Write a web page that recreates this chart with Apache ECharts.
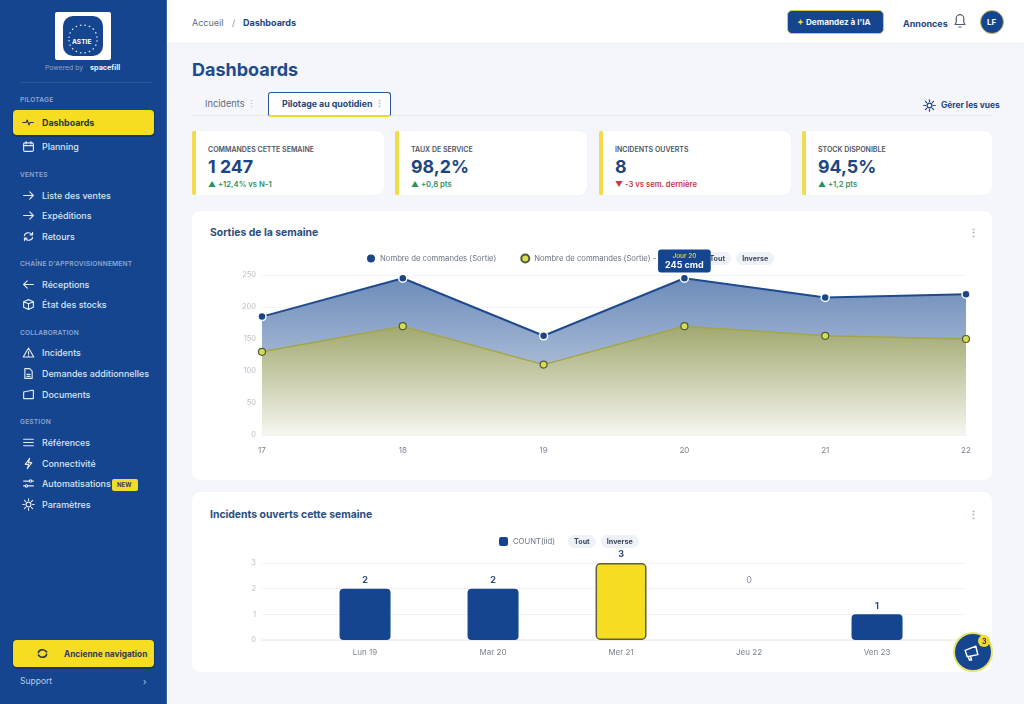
<!DOCTYPE html>
<html lang="fr">
<head>
<meta charset="utf-8">
<title>Dashboards</title>
<script src="https://cdn.jsdelivr.net/npm/echarts@6/dist/echarts.min.js"></script>
<style>
* { box-sizing: border-box; }
html, body { margin: 0; width: 1024px; height: 704px; overflow: hidden; background: #f4f6fb; font-family: Inter, sans-serif; color: #1d4580; }
.abs, .t { position: absolute; white-space: nowrap; }
.t { transform: translateY(-50%); line-height: 1; }
#side { position: absolute; left: 0; top: 0; width: 167px; height: 704px; background: #15458f; border-right: 1px solid #3f68a8; }
.sec { left: 20px; font-size: 6.6px; font-weight: 600; color: #8ea7cf; letter-spacing: .2px; }
.nav { left: 42px; font-size: 8.9px; font-weight: 500; color: #dbe5f5; }
.ic { position: absolute; left: 22px; width: 13px; height: 13px; fill: none; stroke: #e3eaf6; stroke-width: 1.4; stroke-linecap: round; stroke-linejoin: round; }
.yb { position: absolute; left: 13px; width: 141px; background: #f6dd21; border-radius: 4px; box-shadow: 0 1px 0 1px #12376f; }
.card { position: absolute; background: #fff; border-radius: 8px; box-shadow: 0 0 2px rgba(40,60,100,.06); }
.kpi { position: absolute; top: 131px; height: 64px; background: #fff; border-left: 4px solid #f0dc4c; border-radius: 2px 8px 8px 2px; box-shadow: 0 0 2px rgba(40,60,100,.06); }
.kl { left: 12px; top: 17.500px; font-size: 7px; font-weight: 600; color: #4d5565; }
.kv { left: 12px; top: 36px; font-size: 17.800px; font-weight: 700; color: #1d4580; }
.kd { left: 12px; top: 53.500px; font-size: 7.700px; font-weight: 600; }
.chart { position: absolute; left: 192px; width: 800px; }
.ttl { left: 210px; font-size: 10.400px; font-weight: 700; color: #2b4d80; }
.keb { left: 968px; font-size: 11px; color: #a5acb8; font-weight: 700; }
</style>
</head>
<body>
<div id="side"></div>
<div class="abs" style="left:167px;top:0;width:857px;height:44px;background:#fff;border-bottom:1px solid #eceff5"></div>

<div class="t" style="left:192px;top:22px;font-size:9px;color:#5f6b80">Accueil</div>
<div class="t" style="left:232px;top:22px;font-size:9px;color:#8a93a3">/</div>
<div class="t" style="left:243px;top:22px;font-size:9px;font-weight:700">Dashboards</div>
<div class="abs" style="left:787px;top:10px;width:97px;height:24px;background:#15458f;border:1.500px solid #cfc95a;border-radius:5px"></div>
<div class="t" style="left:797px;top:22px;font-size:8.200px;font-weight:700;color:#f5f7fb"><span style="color:#f6dd21">✦</span> Demandez à l'IA</div>
<div class="t" style="left:903px;top:22.500px;font-size:9px;font-weight:700">Annonces</div>
<svg class="abs" style="left:952px;top:12px" width="16" height="18" viewBox="0 0 16 18" fill="none" stroke="#505a6c" stroke-width="1.200" stroke-linejoin="round"><path d="M3 12.500h10l-1.200-2V6.500a3.800 3.800 0 0 0-7.600 0v4zM6.500 15h3"/></svg>
<div class="abs" style="left:980px;top:10px;width:24px;height:24px;border-radius:50%;background:#15458f;border:1.500px solid #c5c05a"></div>
<div class="t" style="left:987px;top:22px;font-size:8px;font-weight:700;color:#fff">LF</div>

<div class="t" style="left:192px;top:70px;font-size:18px;font-weight:700;color:#1d4a8c">Dashboards</div>
<div class="abs" style="left:192px;top:115px;width:800px;height:1px;background:#e8ebf2"></div>
<div class="t" style="left:205px;top:104px;font-size:9.200px;color:#5f6b80">Incidents <span style="color:#a5acb8">⋮</span></div>
<div class="abs" style="left:268px;top:92px;width:123px;height:25px;background:#fff;border:1.500px solid #2a5794;border-bottom:2.500px solid #f0d92c;border-radius:3px"></div>
<div class="t" style="left:282px;top:104px;font-size:8.800px;font-weight:700">Pilotage au quotidien <span style="color:#a5acb8">⋮</span></div>
<svg class="abs" style="left:923px;top:99px" width="13" height="13" viewBox="0 0 16 16" fill="none" stroke="#1d4580" stroke-width="1.500" stroke-linecap="round"><circle cx="8" cy="8" r="3"/><path d="M8 1v2M8 13v2M1 8h2M13 8h2M3 3l1.500 1.500M11.500 11.500L13 13M13 3l-1.500 1.500M4.500 11.500L3 13"/></svg>
<div class="t" style="left:941px;top:105px;font-size:8.400px;font-weight:700">Gérer les vues</div>

<div id="kpis"></div>

<div class="card" style="left:192px;top:211px;width:800px;height:269px"></div>
<div class="t ttl" style="top:233px">Sorties de la semaine</div>
<div class="t keb" style="top:233px">⋮</div>
<div class="card" style="left:192px;top:492px;width:800px;height:180px"></div>
<div class="t ttl" style="top:515px">Incidents ouverts cette semaine</div>
<div class="t keb" style="top:515px">⋮</div>
<div id="chartSorties" class="chart" style="top:211px;height:269px"></div>
<div id="chartIncidents" class="chart" style="top:492px;height:180px"></div>

<div class="abs" style="left:955px;top:634px;width:36px;height:36px;border-radius:50%;background:#15458f;box-shadow:0 0 0 2px #e9e36a"></div>
<svg class="abs" style="left:963px;top:644px" width="17" height="17" viewBox="0 0 16 16" fill="none" stroke="#fff" stroke-width="1.400" stroke-linejoin="round"><path d="M2 6l10-4 2 8-10 2zM5 12l1 3h2l-1-3.500"/></svg>
<div class="abs" style="left:978px;top:635px;width:12px;height:12px;border-radius:50%;background:#f0dc2c"></div>
<div class="t" style="left:982px;top:641px;font-size:7px;font-weight:700;color:#333">3</div>

<script>
// menu lateral
var sections = [['PILOTAGE', 100], ['VENTES', 175], ["CHAÎNE D'APPROVISIONNEMENT", 264], ['COLLABORATION', 333], ['GESTION', 422]];
var icons = {
  pulse: '<path d="M1 8h4l1.500-3 2 6 1.500-3h4"/>',
  cal: '<rect x="2" y="3.500" width="12" height="10.500" rx="1.500"/><path d="M2 7h12M5 2v3M11 2v3"/>',
  right: '<path d="M2 8h12M9.500 3.500L14 8l-4.500 4.500"/>',
  left: '<path d="M14 8H2M6.500 3.500L2 8l4.500 4.500"/>',
  swap: '<path d="M3 7a5 4 0 0 1 9-2l1 1M13 9a5 4 0 0 1-9 2l-1-1M13 3v3h-3M3 13v-3h3"/>',
  box: '<path d="M8 2l6 2.500v7L8 14l-6-2.500v-7zM2 4.500L8 7l6-2.500M8 7v7"/>',
  warn: '<path d="M8 2.500l6.500 11h-13zM8 7v3M8 12v.300"/>',
  doc: '<path d="M3.500 2h6l3 3v9h-9zM6 9h4M6 11.500h4"/>',
  folder: '<path d="M2 5l9-2h3v10H2zM2 5v8"/>',
  list: '<path d="M2 4h12M2 8h12M2 12h12"/>',
  bolt: '<path d="M9.500 1.500L4 9h4l-1.500 5.500L12 7H8z"/>',
  sliders: '<path d="M2 5h7M12 5h2M2 11h2M7 11h7"/><circle cx="10.500" cy="5" r="1.500"/><circle cx="5.500" cy="11" r="1.500"/>',
  sun: '<circle cx="8" cy="8" r="3"/><path d="M8 1v2M8 13v2M1 8h2M13 8h2M3 3l1.500 1.500M11.500 11.500L13 13M13 3l-1.500 1.500M4.500 11.500L3 13"/>'
};
var navItems = [
  ['Dashboards', 122, 'pulse'], ['Planning', 146, 'cal'], ['Liste des ventes', 195, 'right'], ['Expéditions', 215, 'right'],
  ['Retours', 236, 'swap'], ['Réceptions', 284, 'left'], ['État des stocks', 304, 'box'], ['Incidents', 352, 'warn'],
  ['Demandes additionnelles', 373, 'doc'], ['Documents', 394, 'folder'], ['Références', 442, 'list'], ['Connectivité', 463, 'bolt'],
  ['Automatisations', 483, 'sliders'], ['Paramètres', 504, 'sun']
];
var html = '';
html += '<div class="abs" style="left:55px;top:12px;width:56px;height:48px;background:#fff;border-radius:2px"></div>';
html += '<div class="abs" style="left:63px;top:16px;width:40px;height:40px;background:#15458f;border-radius:10px"></div>';
html += '<svg class="abs" style="left:63px;top:16px" width="40" height="40" fill="none" stroke="#dfe7f5" stroke-width="1.300" stroke-dasharray="1.500 3"><path d="M6 22a14 13 0 0 1 28 0M6 24a14 13 0 0 0 28 0" /></svg>';
html += '<div class="t" style="left:72px;top:41.500px;font-size:6.600px;font-weight:700;color:#fff">ASTIE</div>';
html += '<div class="t" style="left:45px;top:68px;font-size:6.800px;color:#88a3cf">Powered by</div>';
html += '<div class="t" style="left:90px;top:68px;font-size:7.200px;font-weight:700;color:#eef3fb">spacefill</div>';
html += '<div class="abs" style="left:20px;top:82px;width:132px;height:1px;background:#2a5799"></div>';
html += '<div class="yb" style="top:110px;height:25px"></div>';
html += '<div class="yb" style="top:640px;height:27px"></div>';
sections.forEach(function (s) { html += '<div class="t sec" style="top:' + s[1] + 'px">' + s[0] + '</div>'; });
navItems.forEach(function (n, i) {
  var on = i === 0;
  html += '<svg class="ic" viewBox="0 0 16 16" style="top:' + (n[1] - 6.5) + 'px;' + (on ? 'stroke:#2b3a4e' : '') + '">' + icons[n[2]] + '</svg>';
  html += '<div class="t nav" style="top:' + (n[1] + .5) + 'px;' + (on ? 'color:#26364c;font-weight:700' : '') + '">' + n[0] + '</div>';
});
html += '<div class="abs" style="left:112px;top:479px;width:26px;height:12px;background:#f0dc2c;border-radius:2px"></div>';
html += '<div class="t" style="left:117px;top:485px;font-size:6px;font-weight:700;color:#3a4250">NEW</div>';
html += '<svg class="ic" viewBox="0 0 16 16" style="left:36px;top:647px;stroke:#2b3a4e;stroke-width:2"><path d="M3 7a5 4 0 0 1 9-2l1 1M13 9a5 4 0 0 1-9 2l-1-1"/></svg>';
html += '<div class="t" style="left:64px;top:653.500px;font-size:8.300px;font-weight:700;color:#2f3c4a">Ancienne navigation</div>';
html += '<div class="t" style="left:20px;top:681px;font-size:8.500px;color:#b9cbe6">Support</div>';
html += '<div class="t" style="left:143px;top:681px;font-size:9px;color:#b9cbe6">›</div>';
document.getElementById('side').innerHTML = html;

// cartes KPI
var kpiLabels = ['COMMANDES CETTE SEMAINE', 'TAUX DE SERVICE', 'INCIDENTS OUVERTS', 'STOCK DISPONIBLE'];
var kpiValues = ['1 247', '98,2%', '8', '94,5%'];
var kpiDeltas = ['▲ +12,4% vs N-1', '▲ +0,8 pts', '▼ -3 vs sem. dernière', '▲ +1,2 pts'];
var kpiLeft = [192, 395, 599, 802];
var kpiWidth = [192, 192, 192, 190];
var kpiHtml = '';
kpiLabels.forEach(function (l, i) {
  kpiHtml += '<div class="kpi" style="left:' + kpiLeft[i] + 'px;width:' + kpiWidth[i] + 'px">' +
    '<div class="t kl">' + l + '</div><div class="t kv">' + kpiValues[i] + '</div>' +
    '<div class="t kd" style="color:' + (i === 2 ? '#c8384a' : '#2b9163') + '">' + kpiDeltas[i] + '</div></div>';
});
document.getElementById('kpis').innerHTML = kpiHtml;

// graphique sorties
var jours = ['17', '18', '19', '20', '21', '22'];
var sorties = [185, 245, 155, 245, 215, 220];
var sortiesN1 = [130, 170, 110, 170, 155, 150];
var nomSorties = 'Nombre de commandes (Sortie)';
var nomSortiesN1 = 'Nombre de commandes (Sortie) - Année N-1';
var axisText = '#b9bec8';
var legendChip = { color: '#3f4a5e', fontSize: 7.200, fontWeight: 700, fontFamily: 'Inter', backgroundColor: '#eef1f8', borderWidth: 0, borderRadius: 8, padding: [3, 6] };

var chart1 = echarts.init(document.getElementById('chartSorties'));
chart1.setOption({
  animation: false,
  textStyle: { fontFamily: 'Inter' },
  grid: { left: 70, right: 26, top: 64, bottom: 45 },
  legend: {
    z: 1, top: 36, left: 170, icon: 'circle', itemWidth: 8, itemHeight: 8, itemGap: 24,
    textStyle: { color: '#6b7280', fontSize: 7.700, fontFamily: 'Inter' },
    selector: [{ type: 'all', title: 'Tout' }, { type: 'inverse', title: 'Inverse' }],
    selectorLabel: legendChip, selectorItemGap: 5, selectorButtonGap: 7,
    data: [{ name: nomSorties, itemStyle: { borderColor: '#1a4689', borderWidth: 0 } }, { name: nomSortiesN1 }]
  },
  xAxis: {
    type: 'category', boundaryGap: false, data: jours,
    axisLine: { lineStyle: { color: '#eef0f5' } }, axisTick: { show: false },
    axisLabel: { color: '#7b8290', fontSize: 8, margin: 12 }
  },
  yAxis: {
    type: 'value', min: 0, max: 250, interval: 50,
    axisLabel: { color: axisText, fontSize: 7.500, margin: 6 },
    splitLine: { lineStyle: { color: '#f1f3f7' } }
  },
  series: [
    {
      name: nomSorties, type: 'line', data: sorties.map(function (v, i) {
        if (i !== 3) return v;
        return {
          value: v,
          label: {
            show: true, position: 'top', distance: 1, backgroundColor: '#15458f', borderRadius: 3, padding: [2, 7, 2, 7],
            formatter: '{a|Jour ' + jours[i] + '}\n{b|' + v + ' cmd}',
            rich: {
              a: { color: '#f0dc4c', fontSize: 6.500, fontWeight: 500, align: 'center', lineHeight: 9, fontFamily: 'Inter' },
              b: { color: '#fff', fontSize: 9, fontWeight: 700, align: 'center', lineHeight: 10, fontFamily: 'Inter' }
            }
          }
        };
      }),
      z: 2, symbol: 'circle', symbolSize: 8,
      lineStyle: { color: '#1f4b8e', width: 2 },
      itemStyle: { color: '#1a4689', borderColor: '#fff', borderWidth: 1.500 },
      areaStyle: { opacity: 1, color: new echarts.graphic.LinearGradient(0, 0, 0, 1, [
        { offset: 0, color: '#6d8cba' }, { offset: 1, color: '#d5deec' }
      ]) }
    },
    {
      name: nomSortiesN1, type: 'line', data: sortiesN1,
      z: 3, symbol: 'circle', symbolSize: 7,
      lineStyle: { color: '#a3a548', width: 1.500 },
      itemStyle: { color: '#d8dc4e', borderColor: '#4f5b38', borderWidth: 1.200 },
      areaStyle: { opacity: 1, color: new echarts.graphic.LinearGradient(0, 0, 0, 1, [
        { offset: 0, color: '#a1a86e' }, { offset: 1, color: '#f6f6f0' }
      ]) }
    }
  ]
});

// graphique incidents
var jourNum = [19, 20, 21, 22, 23];
var jourLabels = ['Lun 19', 'Mar 20', 'Mer 21', 'Jeu 22', 'Ven 23'];
var incidents = [2, 2, 3, 0, 1];
var chart2 = echarts.init(document.getElementById('chartIncidents'));
chart2.setOption({
  animation: false,
  textStyle: { fontFamily: 'Inter' },
  grid: { left: 70, right: 26, top: 71, bottom: 32 },
  legend: {
    top: 38, left: 302, icon: 'roundRect', itemWidth: 9, itemHeight: 9,
    textStyle: { color: '#6b7280', fontSize: 7.700, fontFamily: 'Inter' },
    selector: [{ type: 'all', title: 'Tout' }, { type: 'inverse', title: 'Inverse' }],
    selectorLabel: legendChip, selectorItemGap: 5, selectorButtonGap: 13,
    data: ['COUNT(iid)']
  },
  xAxis: {
    type: 'value', min: 18.195, max: 23.695,
    splitLine: { show: false }, axisTick: { show: false },
    axisLine: { show: true, onZero: false, lineStyle: { color: '#eef0f5', width: 1.500 } },
    axisLabel: {
      customValues: jourNum, color: '#7b8290', fontSize: 8, margin: 9, showMinLabel: true, showMaxLabel: true,
      formatter: function (v) { return jourLabels[jourNum.indexOf(v)] || ''; }
    }
  },
  yAxis: {
    type: 'value', min: 0, max: 3, interval: 1,
    axisLine: { show: false }, axisTick: { show: false },
    axisLabel: { color: axisText, fontSize: 7.500, margin: 6 },
    splitLine: { lineStyle: { color: '#f1f3f7' } }
  },
  series: [{
    name: 'COUNT(iid)', type: 'bar', barWidth: 51, barMinHeight: 0,
    data: incidents.map(function (v, i) {
      var d = { value: [jourNum[i], v] };
      if (i === 2) d.itemStyle = { color: '#f6dd21', borderColor: '#5b5f3d', borderWidth: 1.500 };
      // le 0 du jeudi est affiche a la hauteur des autres etiquettes
      if (v === 0) d.label = { color: '#8a909c', fontWeight: 400, offset: [0, -51] };
      return d;
    }),
    itemStyle: { color: '#15458f', borderRadius: 4 },
    label: {
      show: true, position: 'top', distance: 4, color: '#2f4a74', fontSize: 9, fontWeight: 700, fontFamily: 'Inter',
      formatter: function (p) { return p.value[1]; }
    }
  }]
});
</script>
</body>
</html>
